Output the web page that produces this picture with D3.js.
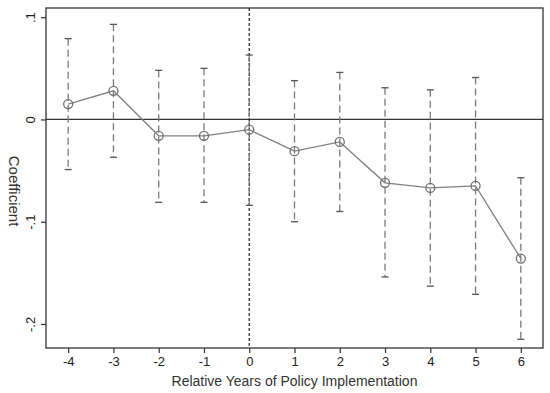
<!DOCTYPE html>
<html>
<meta charset="utf-8">
<script src="https://d3js.org/d3.v7.min.js"></script>
<style>
  body { margin: 0; background: #fff; }
  text { font-family: "Liberation Sans", Arial, sans-serif; }
</style>
<body>
<div id="chart"></div>
<script>
// relative years and estimates
var years = [-4, -3, -2, -1, 0, 1, 2, 3, 4, 5, 6];
var coef  = [0.015, 0.028, -0.016, -0.016, -0.010, -0.031, -0.022, -0.062, -0.067, -0.065, -0.136];
var upper = [0.079, 0.093, 0.048, 0.050, 0.063, 0.038, 0.046, 0.031, 0.029, 0.041, -0.057];
var lower = [-0.049, -0.037, -0.081, -0.081, -0.084, -0.100, -0.090, -0.154, -0.163, -0.171, -0.215];
var yTicks = [0.1, 0, -0.1, -0.2];
var yTickLabels = [".1", "0", "-.1", "-.2"];

var W = 550, H = 393;
var margin = {top: 8, right: 7, bottom: 45, left: 46};
var width = W - margin.left - margin.right,
    height = H - margin.top - margin.bottom;

var svg = d3.select("#chart").append("svg")
    .attr("width", W).attr("height", H)
  .append("g")
    .attr("transform", "translate(" + margin.left + "," + margin.top + ")");

var x = d3.scaleLinear().domain([-4.49, 6.49]).range([0, width]);
var y = d3.scaleLinear().domain([-0.2235, 0.109]).range([height, 0]);

var data = years.map(function(d, i) {
  return {yr: d, b: coef[i], hi: upper[i], lo: lower[i]};
});

// zero line and policy year line
svg.append("line")
    .attr("x1", 0).attr("x2", width)
    .attr("y1", y(0)).attr("y2", y(0))
    .attr("stroke", "#333").attr("stroke-width", 1.3);
svg.append("line")
    .attr("x1", x(0)).attr("x2", x(0))
    .attr("y1", 0).attr("y2", height)
    .attr("stroke", "#333").attr("stroke-width", 1.3)
    .attr("stroke-dasharray", "3,2");

// error bars
var bars = svg.selectAll(".ci").data(data).enter().append("g").attr("class", "ci");
bars.append("line")
    .attr("x1", function(d) { return x(d.yr); })
    .attr("x2", function(d) { return x(d.yr); })
    .attr("y1", function(d) { return y(d.hi); })
    .attr("y2", function(d) { return y(d.lo); })
    .attr("stroke", "#7a7a7a").attr("stroke-width", 1.3)
    .attr("stroke-dasharray", "7,4");
["hi", "lo"].forEach(function(k) {
  bars.append("line")
      .attr("x1", function(d) { return x(d.yr) - 3.5; })
      .attr("x2", function(d) { return x(d.yr) + 3.5; })
      .attr("y1", function(d) { return y(d[k]); })
      .attr("y2", function(d) { return y(d[k]); })
      .attr("stroke", "#555").attr("stroke-width", 1.3);
});

// connecting line + hollow markers
svg.append("path")
    .datum(data)
    .attr("fill", "none")
    .attr("stroke", "#808080").attr("stroke-width", 1.3)
    .attr("d", d3.line().x(function(d) { return x(d.yr); }).y(function(d) { return y(d.b); }));
svg.selectAll(".pt").data(data).enter().append("circle")
    .attr("class", "pt")
    .attr("cx", function(d) { return x(d.yr); })
    .attr("cy", function(d) { return y(d.b); })
    .attr("r", 4.5)
    .attr("fill", "none")
    .attr("stroke", "#707070").attr("stroke-width", 1.3);

// frame
svg.append("rect")
    .attr("width", width).attr("height", height)
    .attr("fill", "none").attr("stroke", "#333").attr("stroke-width", 1.3);

// axes
var xAxis = svg.append("g")
    .attr("transform", "translate(0," + height + ")")
    .call(d3.axisBottom(x).tickValues(years).tickSize(5).tickSizeOuter(0).tickPadding(4)
      .tickFormat(function(d) { return String(d); }));
xAxis.select(".domain").remove();
xAxis.selectAll(".tick line").attr("stroke", "#333").attr("stroke-width", 1.2);
xAxis.selectAll(".tick text").attr("font-size", 13).attr("fill", "#222")
    .style("font-family", "'Liberation Sans', Arial, sans-serif");

var yAxis = svg.append("g")
    .call(d3.axisLeft(y).tickValues(yTicks).tickSize(5).tickSizeOuter(0)
      .tickFormat(function(d, i) { return yTickLabels[i]; }));
yAxis.select(".domain").remove();
yAxis.selectAll(".tick line").attr("stroke", "#333").attr("stroke-width", 1.2);
yAxis.selectAll(".tick text")
    .attr("font-size", 13).attr("fill", "#222")
    .attr("x", null).attr("dy", null)
    .attr("text-anchor", "middle")
    .attr("transform", "translate(-11,0) rotate(-90)")
    .style("font-family", "'Liberation Sans', Arial, sans-serif");

// axis titles
svg.append("text")
    .attr("x", width / 2).attr("y", height + 38)
    .attr("text-anchor", "middle")
    .attr("font-size", 14).attr("fill", "#333")
    .text("Relative Years of Policy Implementation");
svg.append("text")
    .attr("transform", "translate(" + (-37) + "," + (y(-0.07)) + ") rotate(90)")
    .attr("text-anchor", "middle")
    .attr("font-size", 15).attr("fill", "#333")
    .text("Coefficient");
</script>
</body>
</html>
